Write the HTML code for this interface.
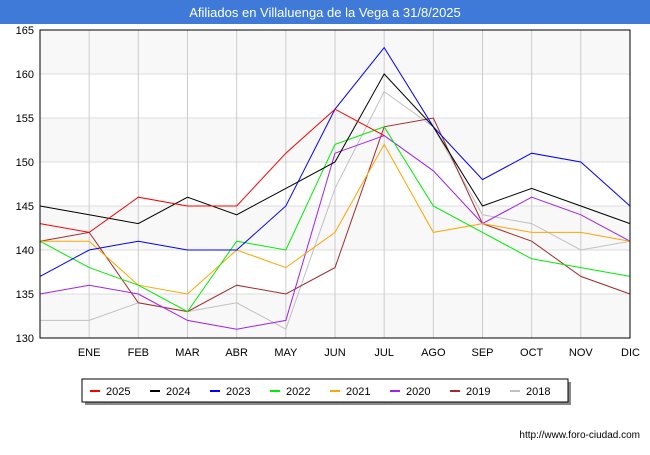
<!DOCTYPE html>
<html><head><meta charset="utf-8"><style>
body{margin:0;width:650px;height:450px;background:#fff;font-family:"Liberation Sans",sans-serif;overflow:hidden}
</style></head><body>
<svg width="650" height="450" xmlns="http://www.w3.org/2000/svg">
<rect x="0" y="0" width="650" height="24" fill="#3f7ad9"/>
<text x="325" y="17" text-anchor="middle" fill="#fff" font-size="13">Afiliados en Villaluenga de la Vega a 31/8/2025</text>
<g id="grid"></g>
<g id="series"></g>
<rect x="40" y="30" width="590" height="308" fill="none" stroke="#000" stroke-width="1"/>
<g id="legend"></g>
<text x="640" y="438" text-anchor="end" font-size="10" fill="#000">http://www.foro-ciudad.com</text>
</svg>
<script>
const months=["","ENE","FEB","MAR","ABR","MAY","JUN","JUL","AGO","SEP","OCT","NOV","DIC"];
const yTicks=[130,135,140,145,150,155,160,165];
const years=["2025","2024","2023","2022","2021","2020","2019","2018"];
const colors=["#ff0000","#000000","#0000ff","#00ee00","#ffa500","#a020f0","#a52a2a","#c0c0c0"];
const s2025=[143,142,146,145,145,151,156,153];
const s2024=[145,144,143,146,144,147,150,160,154,145,147,145,143];
const s2023=[137,140,141,140,140,145,156,163,154,148,151,150,145];
const s2022=[141,138,136,133,141,140,152,154,145,142,139,138,137];
const s2021=[141,141,136,135,140,138,142,152,142,143,142,142,141];
const s2020=[135,136,135,132,131,132,151,153,149,143,146,144,141];
const s2019=[141,142,134,133,136,135,138,154,155,143,141,137,135];
const s2018=[132,132,134,133,134,131,147,158,154,144,143,140,141];
const series=[s2025,s2024,s2023,s2022,s2021,s2020,s2019,s2018];
const NS="http://www.w3.org/2000/svg";
const x0=40,x1=630,yTop=30,yBot=338,ymin=130,ymax=165;
const X=i=>x0+i*(x1-x0)/(months.length-1);
const Y=v=>yBot-(v-ymin)*(yBot-yTop)/(ymax-ymin);
function mk(t,a,p){const e=document.createElementNS(NS,t);for(const k in a)e.setAttribute(k,a[k]);p.appendChild(e);return e;}
const grid=document.getElementById('grid');
for(let i=0;i<yTicks.length-1;i++){
  if(i%2===0){const r=mk('rect',{x:x0,y:Y(yTicks[i+1]),width:x1-x0,height:Y(yTicks[i])-Y(yTicks[i+1]),fill:'#f8f8f8'},grid);
  
  }
}
yTicks.forEach(v=>{
  const l=mk('line',{x1:x0,x2:x1,y1:Y(v),y2:Y(v),stroke:'#dddddd'},grid);
  
  
  const t=mk('text',{x:x0-6,y:Y(v)+4,'text-anchor':'end','font-size':'11',fill:'#000'},grid);t.textContent=v;
  
  
});
months.forEach((m,i)=>{
  if(i===0)return;
  const l=mk('line',{x1:X(i),x2:X(i),y1:yTop,y2:yBot,stroke:'#cccccc'},grid);
  
  
  const t=mk('text',{x:X(i),y:356,'text-anchor':i===12?'end':'middle','font-size':'11',fill:'#000'},grid);t.textContent=m;
  if(i===12)t.setAttribute('x',X(i)+10);
  
  
});
const sg=document.getElementById('series');
for(let k=series.length-1;k>=0;k--){
  const pts=series[k].map((v,i)=>X(i)+','+Y(v)).join(' ');
  const p=mk('polyline',{points:pts,fill:'none',stroke:colors[k],'stroke-width':'1'},sg);
  
  
}
const lg=document.getElementById('legend');
const sh=mk('rect',{x:85,y:382,width:486,height:23,fill:'#888'},lg);


const box=mk('rect',{x:82,y:379,width:486,height:23,fill:'#fff',stroke:'#000'},lg);


years.forEach((y,k)=>{
  const bx=90+k*60;
  const l=mk('line',{x1:bx,x2:bx+10,y1:391,y2:391,stroke:colors[k],'stroke-width':'2'},lg);
  
  
  const t=mk('text',{x:bx+16,y:395,'font-size':'11',fill:'#000'},lg);t.textContent=y;
  
  
});
</script>
</body></html>
